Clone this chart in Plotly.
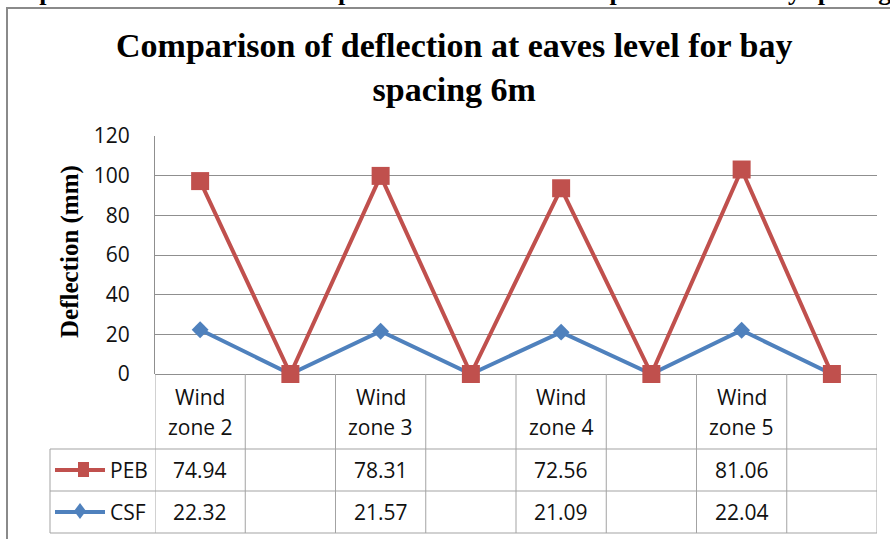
import plotly.graph_objects as go

# Data: deflection at eaves level, bay spacing 6 m (blank cells are empty in the sheet)
categories = ["Wind zone 2", "", "Wind zone 3", "", "Wind zone 4", "", "Wind zone 5", ""]
peb = [74.94, None, 78.31, None, 72.56, None, 81.06, None]
csf = [22.32, None, 21.57, None, 21.09, None, 22.04, None]
y_ticks = [0, 20, 40, 60, 80, 100, 120]

W, H = 890, 539
L, R, T, B = 155, 877, 136, 374  # plot-area edges in pixels


def px(xp):
    return (xp - L) / (R - L)


def py(yp):
    return (B - yp) / (B - T)


RED = "#C0504D"
BLUE = "#4F81BD"
GRID = "#8F8F8F"
TABLE = "#A3A3A3"
SANS = "Open Sans"
SERIF = "Liberation Serif"
TXT = "#111111"

x = list(range(len(categories)))
# empty cells plotted as zero
csf_plot = [v if v is not None else 0 for v in csf]
peb_plot = [v if v is not None else 0 for v in peb]

fig = go.Figure()
fig.add_trace(go.Scatter(
    x=x, y=csf_plot, name="CSF", stackgroup="defl", fill="none",
    mode="lines+markers",
    line=dict(color=BLUE, width=4),
    marker=dict(symbol="diamond", size=13, color=BLUE),
    cliponaxis=False,
))
fig.add_trace(go.Scatter(
    x=x, y=peb_plot, name="PEB", stackgroup="defl", fill="none",
    mode="lines+markers",
    line=dict(color=RED, width=4),
    marker=dict(symbol="square", size=18, color=RED),
    cliponaxis=False,
))

shapes = []
# outer chart border
shapes.append(dict(type="rect", xref="paper", yref="paper",
                   x0=px(7), x1=px(900), y0=py(550), y1=py(8),
                   line=dict(color="#8A8A8A", width=2), layer="below"))
# data table grid
row_y = [449, 491, 533]
for k in range(len(categories) + 1):
    shapes.append(dict(type="line", xref="x", yref="paper",
                       x0=k - 0.5, x1=k - 0.5, y0=py(533), y1=py(374),
                       line=dict(color=TABLE, width=1)))
for yy in row_y:
    shapes.append(dict(type="line", xref="paper", yref="paper",
                       x0=px(50), x1=1, y0=py(yy), y1=py(yy),
                       line=dict(color=TABLE, width=1)))
shapes.append(dict(type="line", xref="paper", yref="paper",
                   x0=px(50), x1=px(50), y0=py(533), y1=py(449),
                   line=dict(color=TABLE, width=1)))
# legend keys inside the table
shapes.append(dict(type="line", xref="paper", yref="paper",
                   x0=px(55), x1=px(105), y0=py(470), y1=py(470),
                   line=dict(color=RED, width=4)))
shapes.append(dict(type="rect", xref="paper", yref="paper",
                   x0=px(78), x1=px(89), y0=py(477), y1=py(462),
                   fillcolor=RED, line=dict(color=RED, width=0)))
shapes.append(dict(type="line", xref="paper", yref="paper",
                   x0=px(55), x1=px(105), y0=py(512), y1=py(512),
                   line=dict(color=BLUE, width=4)))
cx, cy = 80, 511
shapes.append(dict(type="path", xref="paper", yref="paper",
                   path=(f"M {px(cx - 6)} {py(cy)} L {px(cx)} {py(cy - 8)} "
                         f"L {px(cx + 6)} {py(cy)} L {px(cx)} {py(cy + 8)} Z"),
                   fillcolor=BLUE, line=dict(color=BLUE, width=0)))

ann = []
ann.append(dict(text="Representation of results comparison of deflection of span 30m and bay spacing 6m",
                xref="paper", yref="paper", x=px(7), y=py(8),
                xanchor="left", yanchor="bottom", showarrow=False,
                font=dict(family=SERIF, size=26, color="#000000", weight="bold")))
ann.append(dict(text="Comparison of deflection at eaves level for bay<br>spacing 6m",
                xref="paper", yref="paper", x=px(454), y=py(68),
                xanchor="center", yanchor="middle", showarrow=False,
                font=dict(family=SERIF, size=34, color="#000000", weight="bold")))
ann.append(dict(text="Deflection (mm)", textangle=-90,
                xref="paper", yref="paper", x=px(70), y=py(252),
                xanchor="center", yanchor="middle", showarrow=False,
                font=dict(family=SERIF, size=25, color="#000000", weight="bold")))
for i, cat in enumerate(categories):
    if cat:
        first, second = cat.split(" ", 1)
        ann.append(dict(text=first, xref="x", yref="paper", x=i, y=py(397),
                        xanchor="center", yanchor="middle", showarrow=False,
                        font=dict(family=SANS, size=21, color=TXT)))
        ann.append(dict(text=second, xref="x", yref="paper", x=i, y=py(427),
                        xanchor="center", yanchor="middle", showarrow=False,
                        font=dict(family=SANS, size=21, color=TXT)))
for label, vals, yy in (("PEB", peb, 470), ("CSF", csf, 512)):
    ann.append(dict(text=label, xref="paper", yref="paper", x=px(108), y=py(yy),
                    xanchor="left", yanchor="middle", showarrow=False,
                    font=dict(family=SANS, size=21, color=TXT)))
    for i, v in enumerate(vals):
        if v is not None:
            ann.append(dict(text=f"{v:.2f}", xref="x", yref="paper", x=i, y=py(yy),
                            xanchor="center", yanchor="middle", showarrow=False,
                            font=dict(family=SANS, size=21, color=TXT)))

fig.update_layout(
    width=W, height=H,
    margin=dict(l=L, r=W - R, t=T, b=H - B, pad=0),
    paper_bgcolor="white", plot_bgcolor="white",
    showlegend=False,
    shapes=shapes, annotations=ann,
    xaxis=dict(range=[-0.5, len(categories) - 0.5], showticklabels=False,
               showgrid=False, zeroline=False, showline=False, fixedrange=True),
    yaxis=dict(range=[0, 120], tickvals=y_ticks, showgrid=True, gridcolor=GRID,
               gridwidth=1, zeroline=True, zerolinecolor=GRID, zerolinewidth=1,
               showline=True, linecolor=GRID, linewidth=1, ticks="",
               ticklabelstandoff=20,
               tickfont=dict(family=SANS, size=21, color=TXT)),
)

fig.write_html("out.html")
